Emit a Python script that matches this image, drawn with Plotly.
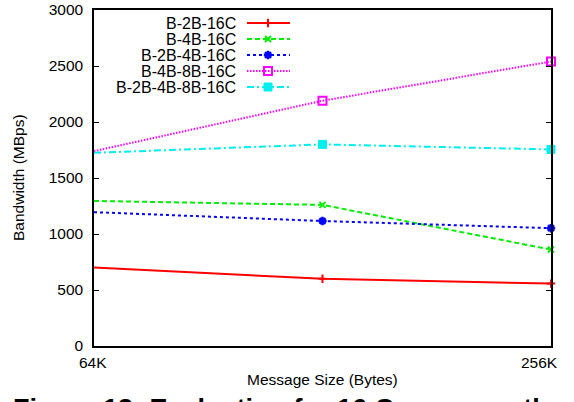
import math
import plotly.graph_objects as go

# ---- data ----
msg_sizes = [65536, 131072, 262144]
tick_vals = [65536, 262144]
tick_text = ["64K", "256K"]
series_names = ["B-2B-16C", "B-4B-16C", "B-2B-4B-16C", "B-4B-8B-16C", "B-2B-4B-8B-16C"]
bw_2b = [700, 600, 557]
bw_4b = [1295, 1260, 861]
bw_2b_4b = [1195, 1116, 1052]
bw_4b_8b = [1740, 2190, 2540]
bw_2b_4b_8b = [1725, 1800, 1755]
series_values = [bw_2b, bw_4b, bw_2b_4b, bw_4b_8b, bw_2b_4b_8b]

# ---- styles ----
W, H = 574, 402
L, R, T, B = 94, 23, 10, 56
FONT = "Liberation Sans, Arial, Helvetica, sans-serif"
FS = 15.5

styles = [
    dict(color="#ff0000", dash="solid", symbol="cross-thin", size=6, mlw=2),
    dict(color="#00ee00", dash="5px,3px", symbol="x-thin", size=6, mlw=2),
    dict(color="#0000ff", dash="3px,3px", symbol="asterisk", size=7, mlw=2.5),
    dict(color="#ff00ff", dash="1.5px,1.5px", symbol="square-open", size=8, mlw=2),
    dict(color="#00eeee", dash="7px,3px,2px,3px", symbol="square", size=8, mlw=1),
]

fig = go.Figure()
for name, vals, st in zip(series_names, series_values, styles):
    fig.add_trace(go.Scatter(
        x=msg_sizes, y=vals, mode="lines+markers", name=name,
        line=dict(color=st["color"], width=2, dash=st["dash"]),
        marker=dict(symbol=st["symbol"], size=st["size"], color=st["color"],
                    line=dict(color=st["color"], width=st["mlw"])),
        cliponaxis=False, showlegend=False,
    ))

# ---- gnuplot-style key (text left, sample right), in pixel coordinates ----
key_text_right = 237
key_x0, key_xm, key_x1 = 247, 268, 290
key_row0, key_dy = 23, 16
for i, (name, st) in enumerate(zip(series_names, styles)):
    yy = key_row0 + i * key_dy
    fig.add_trace(go.Scatter(
        x=[key_x0, key_x1], y=[yy, yy], mode="lines", xaxis="x2", yaxis="y2",
        line=dict(color=st["color"], width=2, dash=st["dash"]), showlegend=False,
        hoverinfo="skip"))
    fig.add_trace(go.Scatter(
        x=[key_xm], y=[yy], mode="markers", xaxis="x2", yaxis="y2",
        marker=dict(symbol=st["symbol"], size=st["size"], color=st["color"],
                    line=dict(color=st["color"], width=st["mlw"])),
        showlegend=False, hoverinfo="skip"))
    fig.add_annotation(x=key_text_right, y=yy, xref="x2", yref="y2", text=name,
                       showarrow=False, xanchor="right", yanchor="middle",
                       borderpad=0,
                       font=dict(family=FONT, size=16, color="black"))

pw = W - L - R
ph = H - T - B
def px(X):
    return (X - L) / pw
def py(Y):
    return (H - B - Y) / ph

# x tick labels (gnuplot keeps the last one inside the canvas)
tick_anchor = ["center", "right"]
tick_shift = [-1, 8]
for v, t, a, s in zip(tick_vals, tick_text, tick_anchor, tick_shift):
    fig.add_annotation(x=math.log10(v), y=py(362.6), xref="x", yref="paper",
                       text=t, showarrow=False, xanchor=a, yanchor="middle",
                       xshift=s, borderpad=0,
                       font=dict(family=FONT, size=FS, color="black"))

# axis titles
fig.add_annotation(x=px(322), y=py(379.6), xref="paper", yref="paper",
                   text="Message Size (Bytes)", showarrow=False,
                   xanchor="center", yanchor="middle",
                   font=dict(family=FONT, size=FS, color="black"))
fig.add_annotation(x=px(18), y=0.5, xref="paper", yref="paper",
                   text="Bandwidth (MBps)", showarrow=False, textangle=-90,
                   xanchor="center", yanchor="middle",
                   font=dict(family=FONT, size=FS, color="black"))
# figure caption (cut off at the bottom)
fig.add_annotation(x=px(11), y=py(392), xref="paper", yref="paper",
                   text="<b>Figure 13: Evaluation for 16 Cores over the</b>",
                   showarrow=False, xanchor="left", yanchor="top",
                   font=dict(family=FONT, size=27, color="black"))

fig.update_layout(
    template="none",
    width=W, height=H,
    margin=dict(l=L, r=R, t=T, b=B, pad=0),
    paper_bgcolor="white", plot_bgcolor="white",
    showlegend=False,
    font=dict(family=FONT, size=FS, color="black"),
    xaxis=dict(type="log", range=[math.log10(msg_sizes[0]), math.log10(msg_sizes[-1])],
               tickvals=tick_vals, showticklabels=False, automargin=False,
               showgrid=False, zeroline=False, showline=True, linecolor="black",
               linewidth=1.5, mirror=True, ticks="inside", ticklen=5,
               tickcolor="black"),
    yaxis=dict(range=[0, 3000], dtick=500, tick0=0, automargin=False,
               ticklabeloverflow="allow", ticklabelstandoff=6,
               showgrid=False, zeroline=False, showline=True, linecolor="black",
               linewidth=1.5, mirror="ticks", ticks="inside", ticklen=5,
               tickcolor="black", tickfont=dict(family=FONT, size=FS)),
    xaxis2=dict(overlaying="x", range=[L, W - R], visible=False, fixedrange=True),
    yaxis2=dict(overlaying="y", range=[H - B, T], visible=False, fixedrange=True),
)

fig.write_html("out.html")
